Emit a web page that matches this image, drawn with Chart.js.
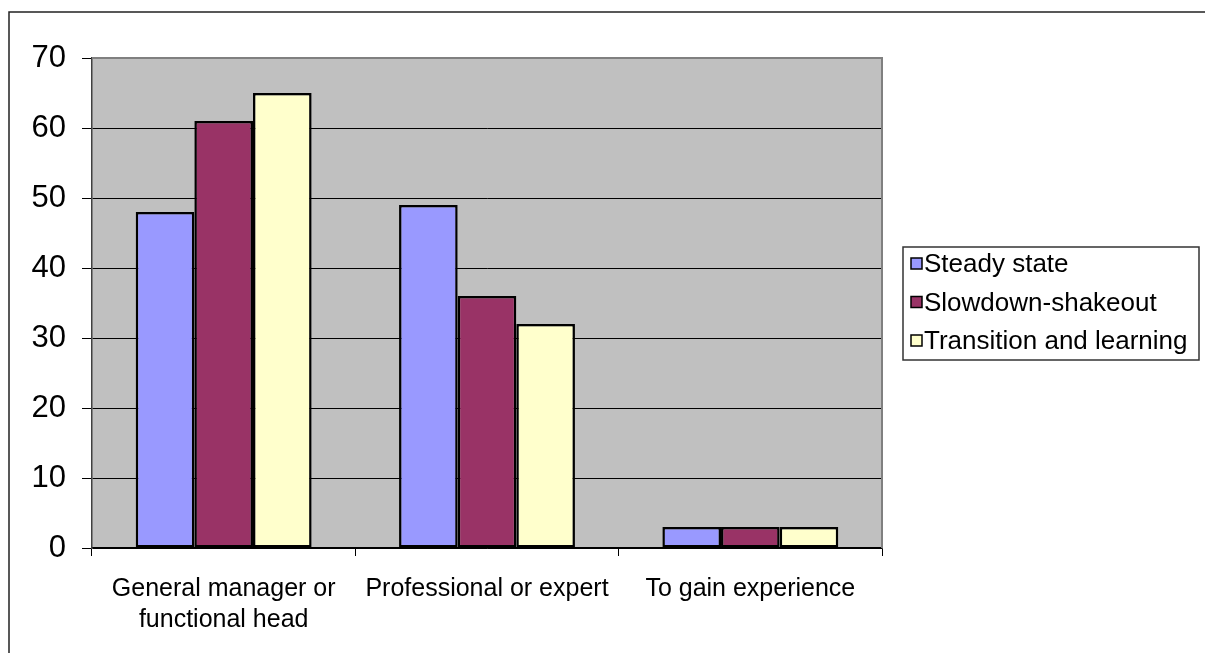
<!DOCTYPE html>
<html>
<head>
<meta charset="utf-8">
<title>Career roles by phase</title>
<script src="https://cdn.jsdelivr.net/npm/chart.js@4.4.1/dist/chart.umd.min.js"></script>
<style>
  html, body { margin: 0; padding: 0; background: #ffffff; }
  #wrap { width: 1205px; height: 653px; }
</style>
</head>
<body>
<div id="wrap"><canvas id="roleChart" width="1205" height="653"></canvas></div>
<script>
// Categories and series values
const categories = [['General manager or', 'functional head'], 'Professional or expert', 'To gain experience'];
const seriesNames = ['Steady state', 'Slowdown-shakeout', 'Transition and learning'];
const steadyState = [48, 49, 3];
const slowdownShakeout = [61, 36, 3];
const transitionLearning = [65, 32, 3];
const yMin = 0;
const yMax = 70;
const yStep = 10;

const fillColors = ['#9999FF', '#993366', '#FFFFCC'];
const FONT = '"Liberation Sans", Arial, sans-serif';

// Gray plot background, plot frame and the outer chart border
const framePlugin = {
    id: 'frame',
    beforeDraw(chart) {
        const { ctx, chartArea: a } = chart;
        ctx.save();
        ctx.fillStyle = '#C0C0C0';
        ctx.fillRect(a.left, a.top, a.right - a.left, a.bottom - a.top);
        ctx.restore();
    },
    afterDatasetsDraw(chart) {
        const { ctx, chartArea: a } = chart;
        ctx.save();
        ctx.strokeStyle = '#808080';
        ctx.lineWidth = 2;
        ctx.beginPath();
        ctx.moveTo(a.left, a.top);
        ctx.lineTo(a.right, a.top);
        ctx.lineTo(a.right, a.bottom);
        ctx.stroke();
        ctx.restore();
    },
    afterDraw(chart) {
        const { ctx } = chart;
        ctx.save();
        ctx.strokeStyle = '#222222';
        ctx.lineWidth = 1.5;
        ctx.strokeRect(9, 12, chart.width, chart.height);
        ctx.restore();
    }
};

// Boxed legend on the right
const boxLegendPlugin = {
    id: 'boxLegend',
    afterDraw(chart) {
        const { ctx } = chart;
        const box = { x: 903, y: 247, w: 296, h: 113 };
        ctx.save();
        ctx.fillStyle = '#ffffff';
        ctx.fillRect(box.x, box.y, box.w, box.h);
        ctx.strokeStyle = '#333333';
        ctx.lineWidth = 1.5;
        ctx.strokeRect(box.x, box.y, box.w, box.h);
        ctx.font = '26px ' + FONT;
        ctx.textBaseline = 'middle';
        chart.data.datasets.forEach((ds, i) => {
            const cy = 264 + i * 38.5;
            ctx.fillStyle = ds.backgroundColor;
            ctx.fillRect(911, cy - 6, 11, 11);
            ctx.strokeStyle = '#000000';
            ctx.lineWidth = 1.5;
            ctx.strokeRect(911, cy - 6, 11, 11);
            ctx.fillStyle = '#000000';
            ctx.fillText(ds.label, 924, cy + 1);
        });
        ctx.restore();
    }
};

const ctx = document.getElementById('roleChart').getContext('2d');
const seriesData = [steadyState, slowdownShakeout, transitionLearning];

new Chart(ctx, {
    type: 'bar',
    data: {
        labels: categories,
        datasets: seriesNames.map((name, i) => ({
            label: name,
            data: seriesData[i],
            backgroundColor: fillColors[i],
            borderColor: '#000000',
            borderWidth: 2.5,
            borderSkipped: false,
            categoryPercentage: 0.668,
            barPercentage: 1.0
        }))
    },
    options: {
        responsive: false,
        animation: false,
        devicePixelRatio: 1,
        layout: {
            padding: { left: 0, top: 58, right: 323, bottom: 0 }
        },
        scales: {
            x: {
                afterFit(scale) { scale.height = 105; },
                ticks: {
                    color: '#000000',
                    font: { family: FONT, size: 25, lineHeight: 1.25 },
                    padding: 17,
                    maxRotation: 0,
                    autoSkip: false
                },
                grid: {
                    offset: true,
                    drawOnChartArea: false,
                    color: '#000000',
                    tickLength: 8,
                    tickColor: '#000000'
                },
                border: { color: '#000000', width: 1.5 }
            },
            y: {
                min: yMin,
                max: yMax,
                afterFit(scale) { scale.width = 92; },
                ticks: {
                    stepSize: yStep,
                    color: '#000000',
                    font: { family: FONT, size: 31 },
                    padding: 16
                },
                grid: {
                    color: ctx => ctx.tick && ctx.tick.value === yMax ? '#808080' : '#000000',
                    lineWidth: 1,
                    tickLength: 10,
                    tickColor: '#000000'
                },
                border: { color: '#404040', width: 1.5 }
            }
        },
        plugins: {
            legend: { display: false },
            tooltip: { enabled: false }
        }
    },
    plugins: [framePlugin, boxLegendPlugin]
});
</script>
</body>
</html>
